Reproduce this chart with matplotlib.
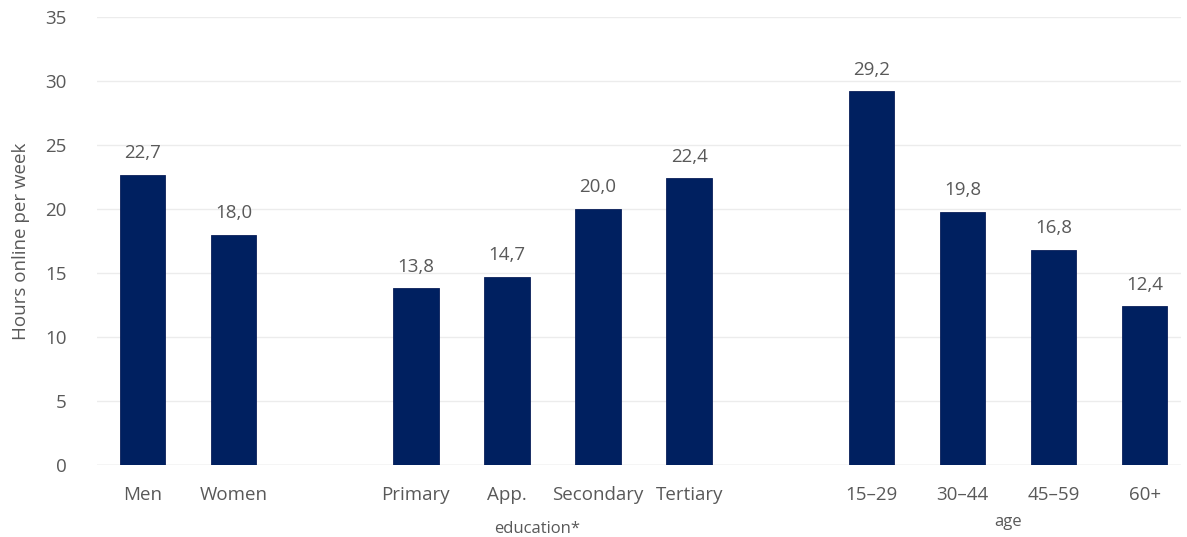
import matplotlib
matplotlib.use("Agg")
import matplotlib.pyplot as plt

categories = ["Men", "Women", "Primary", "App.", "Secondary", "Tertiary", "15–29", "30–44", "45–59", "60+"]
values = [22.7, 18.0, 13.8, 14.7, 20.0, 22.4, 29.2, 19.8, 16.8, 12.4]
slots = [0, 1, 3, 4, 5, 6, 8, 9, 10, 11]
group_labels = ["education*", "age"]
group_pos = [4.33, 9.5]
yticks = [0, 5, 10, 15, 20, 25, 30, 35]

plt.rcParams['font.family'] = ['Open Sans', 'DejaVu Sans']
txt = '#595959'
fs = 13.5

fig = plt.figure(figsize=(11.87, 5.37), dpi=100)
ax = fig.add_axes([0.0817, 0.134, 0.9133, 0.834])
ax.bar(slots, values, width=0.5, color='#002060', edgecolor='#0a1f5a', linewidth=0.6, zorder=3)
for s, v in zip(slots, values):
    ax.text(s, v + 1.0, f"{v:.1f}".replace('.', ','), ha='center', va='bottom', fontsize=fs, color=txt)

ax.set_ylim(0, 35)
ax.set_xlim(-0.5, 11.4)
ax.set_yticks(yticks)
ax.set_xticks(slots)
ax.set_xticklabels(categories)
ax.tick_params(axis='both', length=0, labelsize=fs, colors=txt)
ax.tick_params(axis='x', pad=15)
ax.tick_params(axis='y', pad=22)
ax.grid(axis='y', color='#ececec', linewidth=1, zorder=0)
for sp in ax.spines.values():
    sp.set_visible(False)
ax.axhline(0, color='#e0e0e0', linewidth=1, zorder=2)
ax.set_ylabel("Hours online per week", fontsize=fs, color=txt)
ax.yaxis.set_label_coords(-0.062, 0.5)

trans = ax.get_xaxis_transform()
ax.text(group_pos[0], -0.142, group_labels[0], transform=trans, ha='center', va='center', fontsize=12, color=txt)
ax.text(group_pos[1], -0.127, group_labels[1], transform=trans, ha='center', va='center', fontsize=12, color=txt)

fig.savefig("out.png", dpi=100)
